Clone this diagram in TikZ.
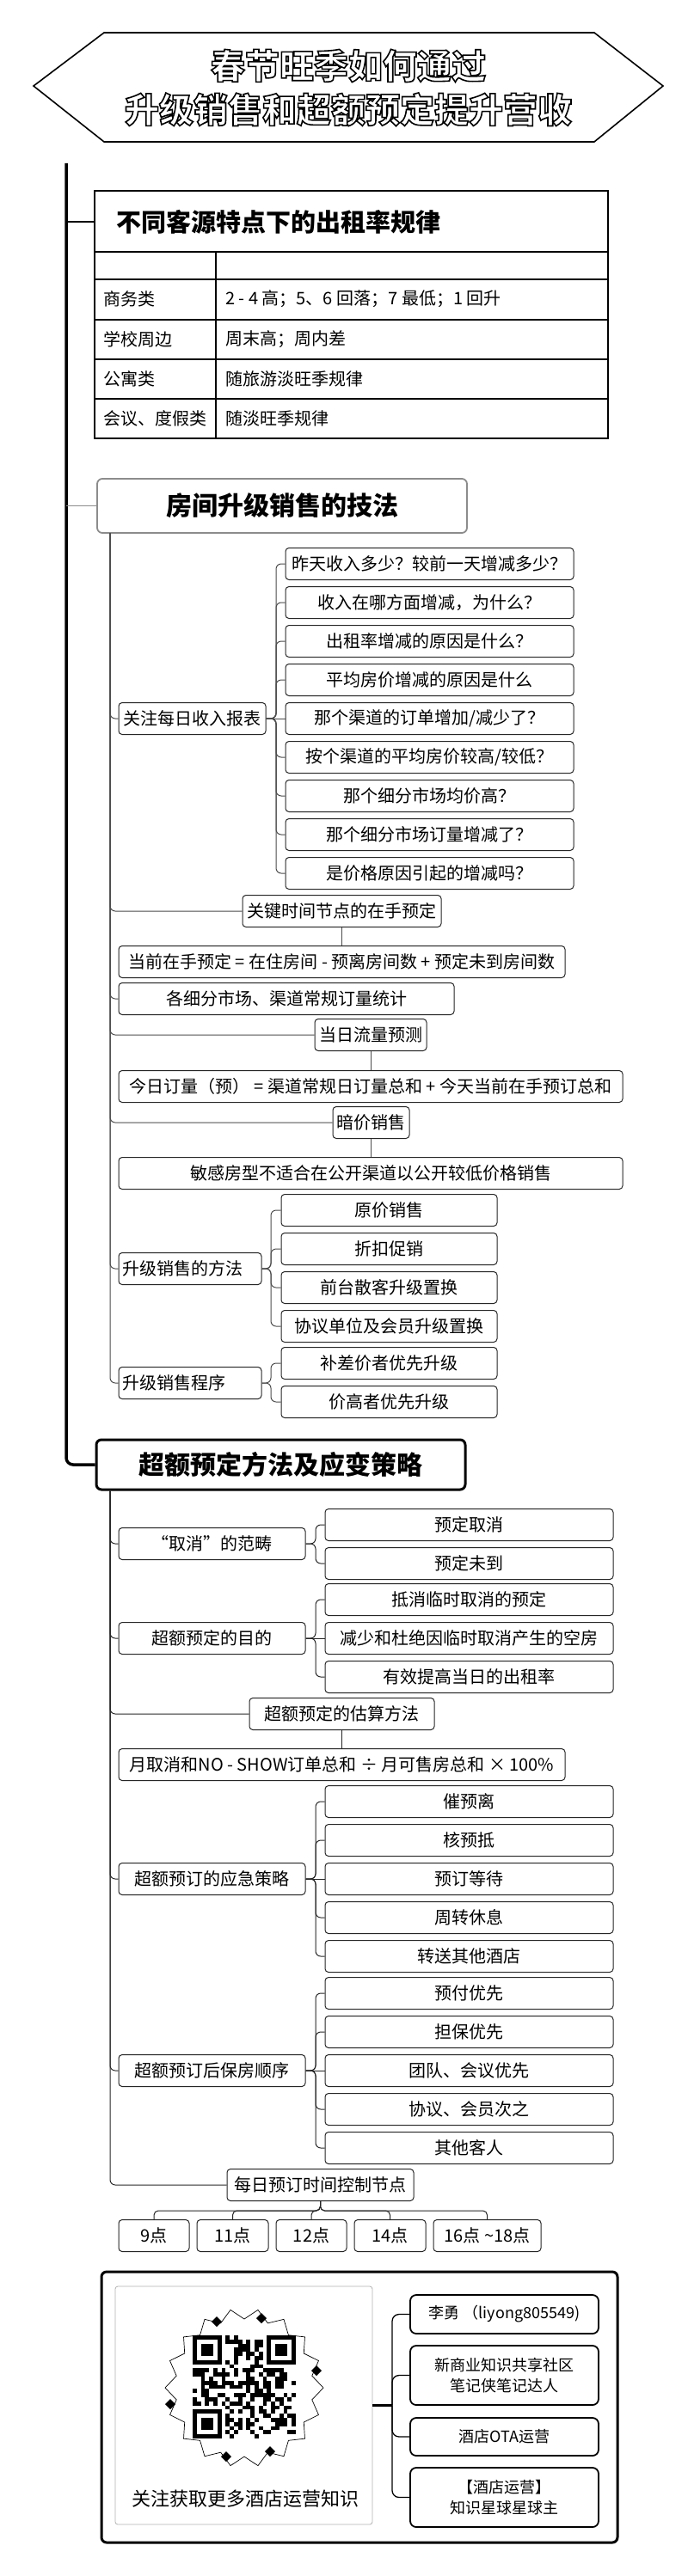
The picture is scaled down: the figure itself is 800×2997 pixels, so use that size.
\documentclass[tikz,border=0pt]{standalone}
\usepackage{fontspec}
\setmainfont{Noto Sans CJK SC}
\usetikzlibrary{calc}
\newcommand\fsz[1]{\fontsize{#1pt}{#1pt}\selectfont}
\newcommand\outl[1]{\special{pdf:literal direct 0 G 2 Tr 1.6 w}#1\special{pdf:literal direct 0 Tr}}
\begin{document}
\begin{tikzpicture}[x=1pt,y=-1pt,
  bx/.style={draw=black!85, line width=1pt, rounded corners=4pt, minimum height=37pt, inner sep=0pt, font=\fsz{20}},
  conn/.style={draw=black!70, line width=1pt, rounded corners=6pt},
  connb/.style={draw=black!85, line width=1pt, rounded corners=6pt},
  rbx/.style={draw, line width=1.8pt, rounded corners=7pt, minimum width=219pt, inner sep=0pt, align=center, font=\fontsize{18pt}{24pt}\selectfont},
  tl/.style={anchor=west, font=\fsz{20}, inner sep=0pt}]
\useasboundingbox (0,0) rectangle (800,2997);
\fill[white] (0,0) rectangle (800,2997);

% ---------- title ----------
\draw[line width=1.6pt] (39,100) -- (121,38) -- (691,38) -- (771,100) -- (691,165) -- (121,165) -- cycle;
\node[font=\fontsize{40pt}{51pt}\selectfont\bfseries, align=center, text=white, inner sep=0pt] (title) at (405,102) {\outl{春节旺季如何通过}\\\outl{升级销售和超额预定提升营收}};

% ---------- main spine ----------
\coordinate (sp) at (77,190);
\coordinate (tw) at (110,258);

% ---------- table ----------
\draw[line width=2.5pt] (110,222) rectangle (707,510);
\foreach \yy in {293,325,372,418,464} \draw[line width=2pt] (110,\yy) -- (707,\yy);
\draw[line width=2pt] (251,293) -- (251,510);
\node[anchor=west, font=\fsz{29}\bfseries, inner sep=0pt] (ttitle) at (135,258) {不同客源特点下的出租率规律};
\node[tl] (ra) at (120,348) {商务类};
\node[tl] (va) at (262,348) {2 - 4 高；5、6 回落；7 最低；1 回升};
\node[tl] (rb) at (120,395) {学校周边};
\node[tl] (vb) at (262,395) {周末高；周内差};
\node[tl] (rc) at (120,441) {公寓类};
\node[tl] (vc) at (262,441) {随旅游淡旺季规律};
\node[tl] (rd) at (120,487) {会议、度假类};
\node[tl] (vd) at (262,487) {随淡旺季规律};

% ---------- section headers ----------
\node[draw=black!45, line width=1.8pt, rounded corners=6pt, minimum width=430pt, minimum height=63pt, inner sep=0pt, font=\fsz{30}\bfseries] (h2) at (328,588.5) {房间升级销售的技法};
\node[draw, line width=3pt, rounded corners=6pt, minimum width=429pt, minimum height=58pt, inner sep=0pt, font=\fsz{30}\bfseries] (h3) at (326.5,1704) {超额预定方法及应变策略};

\draw[line width=3.5pt, rounded corners=8pt] (sp) |- (h3.west);
\draw[line width=2pt] (sp |- tw) -- (tw);
\draw[black!45, line width=1.5pt] (sp |- h2.west) -- (h2.west);

% ---------- section 2 ----------
\coordinate (s2) at (128,620);
\coordinate (b1) at (321,0);
\coordinate (b3) at (315,0);
\node[bx, minimum width=171pt] (inc) at (223.5,836) {关注每日收入报表};
\node[bx, minimum width=335pt] (q1) at (499.5,656) {昨天收入多少？较前一天增减多少？};
\node[bx, minimum width=335pt] (q2) at (499.5,701) {收入在哪方面增减，为什么？};
\node[bx, minimum width=335pt] (q3) at (499.5,746) {出租率增减的原因是什么？};
\node[bx, minimum width=335pt] (q4) at (499.5,791) {平均房价增减的原因是什么};
\node[bx, minimum width=335pt] (q5) at (499.5,836) {那个渠道的订单增加/减少了？};
\node[bx, minimum width=335pt] (q6) at (499.5,881) {按个渠道的平均房价较高/较低？};
\node[bx, minimum width=335pt] (q7) at (499.5,926) {那个细分市场均价高？};
\node[bx, minimum width=335pt] (q8) at (499.5,971) {那个细分市场订量增减了？};
\node[bx, minimum width=335pt] (q9) at (499.5,1016) {是价格原因引起的增减吗？};
\node[bx, minimum width=231pt] (key) at (397.5,1060) {关键时间节点的在手预定};
\node[bx, minimum width=519pt] (onhand) at (397.5,1119) {当前在手预定 = 在住房间 - 预离房间数 + 预定未到房间数};
\node[bx, minimum width=390pt] (seg) at (333,1162) {各细分市场、渠道常规订量统计};
\node[bx, minimum width=130pt] (flow) at (431,1204) {当日流量预测};
\node[bx, minimum width=586pt] (today) at (431,1264) {今日订量（预） = 渠道常规日订量总和 + 今天当前在手预订总和};
\node[bx, minimum width=89pt] (dark) at (431.5,1306) {暗价销售};
\node[bx, minimum width=586pt] (sens) at (431,1365) {敏感房型不适合在公开渠道以公开较低价格销售};
\node[bx, minimum width=166pt, text width=158pt, align=left] (meth) at (221,1476) {升级销售的方法};
\node[bx, minimum width=251pt] (m1) at (452.5,1408) {原价销售};
\node[bx, minimum width=251pt] (m2) at (452.5,1453) {折扣促销};
\node[bx, minimum width=251pt] (m3) at (452.5,1498) {前台散客升级置换};
\node[bx, minimum width=251pt] (m4) at (452.5,1543) {协议单位及会员升级置换};
\node[bx, minimum width=166pt, text width=158pt, align=left] (proc) at (221,1609) {升级销售程序};
\node[bx, minimum width=251pt] (p1) at (452.5,1586) {补差价者优先升级};
\node[bx, minimum width=251pt] (p2) at (452.5,1631) {价高者优先升级};

\foreach \c in {inc,key,seg,flow,dark,meth,proc} \draw[conn] (s2) |- (\c.west);
\foreach \c in {q1,q2,q3,q4,q6,q7,q8,q9} \draw[conn] (inc.east) -- (inc.east -| b1) |- (\c.west);
\draw[conn] (inc.east) -- (q5.west);
\draw[conn] (key.south) -- (onhand.north);
\draw[conn] (flow.south) -- (today.north);
\draw[conn] (dark.south) -- (dark.south |- sens.north);
\foreach \c in {m1,m2,m3,m4} \draw[conn] (meth.east) -- (meth.east -| b3) |- (\c.west);
\foreach \c in {p1,p2} \draw[conn] (proc.east) -- (proc.east -| b3) |- (\c.west);

% ---------- section 3 ----------
\coordinate (s3) at (128,1733);
\coordinate (b2) at (367,0);
\node[bx, minimum width=217pt] (cat) at (246.5,1796) {“取消”的范畴};
\node[bx, minimum width=335pt] (c1) at (545.5,1774) {预定取消};
\node[bx, minimum width=335pt] (c2) at (545.5,1819) {预定未到};
\node[bx, minimum width=217pt] (purp) at (246.5,1906) {超额预定的目的};
\node[bx, minimum width=335pt] (u1) at (545.5,1861) {抵消临时取消的预定};
\node[bx, minimum width=335pt] (u2) at (545.5,1906) {减少和杜绝因临时取消产生的空房};
\node[bx, minimum width=335pt] (u3) at (545.5,1951) {有效提高当日的出租率};
\node[bx, minimum width=215pt] (est) at (397.5,1994) {超额预定的估算方法};
\node[bx, minimum width=519pt] (form) at (397.5,2053) {月取消和NO - SHOW订单总和 ÷ 月可售房总和 × 100\%};
\node[bx, minimum width=217pt] (emer) at (246.5,2186) {超额预订的应急策略};
\node[bx, minimum width=335pt] (e1) at (545.5,2096) {催预离};
\node[bx, minimum width=335pt] (e2) at (545.5,2141) {核预抵};
\node[bx, minimum width=335pt] (e3) at (545.5,2186) {预订等待};
\node[bx, minimum width=335pt] (e4) at (545.5,2231) {周转休息};
\node[bx, minimum width=335pt] (e5) at (545.5,2276) {转送其他酒店};
\node[bx, minimum width=217pt] (keep) at (246.5,2409) {超额预订后保房顺序};
\node[bx, minimum width=335pt] (k1) at (545.5,2319) {预付优先};
\node[bx, minimum width=335pt] (k2) at (545.5,2364) {担保优先};
\node[bx, minimum width=335pt] (k3) at (545.5,2409) {团队、会议优先};
\node[bx, minimum width=335pt] (k4) at (545.5,2454) {协议、会员次之};
\node[bx, minimum width=335pt] (k5) at (545.5,2499) {其他客人};
\node[bx, minimum width=217pt] (ctrl) at (372.5,2542) {每日预订时间控制节点};
\node[bx, minimum width=82pt] (t1) at (179,2601) {9点};
\node[bx, minimum width=83pt] (t2) at (270.5,2601) {11点};
\node[bx, minimum width=82pt] (t3) at (362,2601) {12点};
\node[bx, minimum width=83pt] (t4) at (453.5,2601) {14点};
\node[bx, minimum width=125pt] (t5) at (566.5,2601) {16点 \textasciitilde18点};

\foreach \c in {cat,purp,est,emer,keep,ctrl} \draw[connb] (s3) |- (\c.west);
\foreach \c in {c1,c2} \draw[connb] (cat.east) -- (cat.east -| b2) |- (\c.west);
\foreach \c in {u1,u3} \draw[connb] (purp.east) -- (purp.east -| b2) |- (\c.west);
\draw[connb] (purp.east) -- (u2.west);
\foreach \c in {e1,e2,e4,e5} \draw[connb] (emer.east) -- (emer.east -| b2) |- (\c.west);
\draw[connb] (emer.east) -- (e3.west);
\foreach \c in {k1,k2,k4,k5} \draw[connb] (keep.east) -- (keep.east -| b2) |- (\c.west);
\draw[connb] (keep.east) -- (k3.west);
\draw[connb] (est.south) -- (form.north);
\coordinate (bus) at (0,2572);
\foreach \c in {t1,t2,t3,t4,t5} \draw[connb, rounded corners=5pt] (ctrl.south) -- (ctrl.south |- bus) -| (\c.north);

% ---------- footer ----------
\node[draw, line width=3pt, rounded corners=6pt, minimum width=600pt, minimum height=315pt, inner sep=0pt] (foot) at (418,2800.5) {};
\node[draw=black!30, line width=0.8pt, rounded corners=3pt, minimum width=299pt, minimum height=277pt, inner sep=0pt] (panel) at (283.5,2798.5) {};
% starburst and QR-like pattern
\draw[line width=0.7pt, fill=white] plot[samples at={0,...,35}] ({284+(92-12*mod(\x,2))*cos(\x*10)},{2778+(92-12*mod(\x,2))*sin(\x*10)}) -- cycle;
\foreach \a/\b in {0/0,18/0,0/18}{
  \fill ({224+\a*4.8},{2717+\b*4.8}) rectangle ++(33.6,33.6);
  \fill[white] ({228.8+\a*4.8},{2721.8+\b*4.8}) rectangle ++(24,24);
  \fill ({233.6+\a*4.8},{2726.6+\b*4.8}) rectangle ++(14.4,14.4);
}
\pgfmathsetseed{12}
\foreach \i in {0,...,24}{\foreach \j in {0,...,24}{
  \pgfmathtruncatemacro\qs{((\i<8)&&(\j<8))||((\i>16)&&(\j<8))||((\i<8)&&(\j>16))}
  \pgfmathrandominteger\qr{0}{1}
  \ifnum\qs=0 \ifnum\qr=1 \fill ({224+\i*4.8},{2717+\j*4.8}) rectangle ++(4.8,4.8); \fi\fi
}}
\foreach \dx/\dy in {252/2701,304/2697,368/2758,198/2797,263/2858,314/2852}
  \fill (\dx,\dy) +(0,-6) -- +(6,0) -- +(0,6) -- +(-6,0) -- cycle;
\node[font=\fsz{22}, inner sep=0pt] (cap) at (285,2907) {关注获取更多酒店运营知识};

\coordinate (fb) at (456,0);
\node[rbx, minimum height=45pt] (r1) at (586.5,2692.5) {李勇 （liyong805549)};
\node[rbx, minimum height=69pt] (r2) at (586.5,2763.5) {新商业知识共享社区\\笔记侠笔记达人};
\node[rbx, minimum height=44pt] (r3) at (586.5,2835) {酒店OTA运营};
\node[rbx, minimum height=69pt] (r4) at (586.5,2905.5) {【酒店运营】\\知识星球星球主};
\draw[line width=2.5pt] (panel.east) -- (panel.east -| fb);
\foreach \c in {r1,r2,r3,r4} \draw[line width=1.3pt, rounded corners=8pt] (panel.east -| fb) |- (\c.west);
\end{tikzpicture}
\end{document}
